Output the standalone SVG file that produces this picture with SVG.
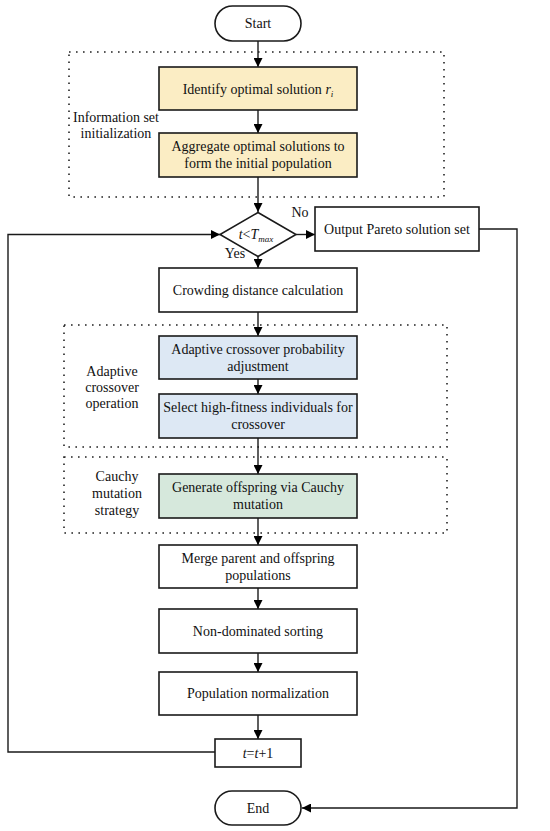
<svg xmlns="http://www.w3.org/2000/svg" width="550" height="831" viewBox="0 0 550 831" font-family="'Liberation Serif', 'Times New Roman', Times, serif">
<style>
text{font-family:'Liberation Serif','Times New Roman',Times,serif;font-size:14px;fill:#111;text-anchor:middle}
.box{stroke:#1a1a1a;stroke-width:1.6;fill:#fff}
.y{fill:#FBEDC4}.b{fill:#DDE8F4}.g{fill:#D6E8DC}
.dot{fill:none;stroke:#222;stroke-width:1.6;stroke-dasharray:1.6 5.4}
.ln{fill:none;stroke:#1a1a1a;stroke-width:1.4}
</style>
<defs>
<marker id="ah" markerWidth="9" markerHeight="9" refX="9" refY="4.5" orient="auto" markerUnits="userSpaceOnUse">
<path d="M0,0 L9,4.5 L0,9 z" fill="#000"/>
</marker>
</defs>
<rect width="550" height="831" fill="#fff"/>
<g id="groups">
<rect class="dot" x="69" y="52" width="375" height="145"/>
<text x="116" y="122">Information set</text>
<text x="116" y="138">initialization</text>
<rect class="dot" x="64" y="325" width="383" height="122"/>
<text x="112" y="376">Adaptive</text>
<text x="112" y="392">crossover</text>
<text x="112" y="408">operation</text>
<rect class="dot" x="64" y="457" width="383" height="76"/>
<text x="117" y="481">Cauchy</text>
<text x="117" y="498">mutation</text>
<text x="117" y="515">strategy</text>
</g>
<g id="connectors">
<line class="ln" x1="258" y1="41" x2="258" y2="67" marker-end="url(#ah)"/>
<line class="ln" x1="258" y1="110" x2="258" y2="133" marker-end="url(#ah)"/>
<line class="ln" x1="258" y1="177" x2="258" y2="212" marker-end="url(#ah)"/>
<line class="ln" x1="296" y1="234.5" x2="315" y2="234.5" marker-end="url(#ah)"/>
<line class="ln" x1="258" y1="257" x2="258" y2="268" marker-end="url(#ah)"/>
<line class="ln" x1="258" y1="312" x2="258" y2="336" marker-end="url(#ah)"/>
<line class="ln" x1="258" y1="379" x2="258" y2="394" marker-end="url(#ah)"/>
<line class="ln" x1="258" y1="438" x2="258" y2="474" marker-end="url(#ah)"/>
<line class="ln" x1="258" y1="518" x2="258" y2="545" marker-end="url(#ah)"/>
<line class="ln" x1="258" y1="588" x2="258" y2="609" marker-end="url(#ah)"/>
<line class="ln" x1="258" y1="653" x2="258" y2="672" marker-end="url(#ah)"/>
<line class="ln" x1="258" y1="715" x2="258" y2="739" marker-end="url(#ah)"/>
<polyline class="ln" points="215,752 8,752 8,234.5 220,234.5" marker-end="url(#ah)"/>
<polyline class="ln" points="479,229 517,229 517,808 302,808" marker-end="url(#ah)"/>
<text x="300" y="217">No</text>
<text x="235" y="258">Yes</text>
</g>
<g id="start">
<rect class="box" x="215" y="6" width="86" height="35" rx="17.5"/>
<text x="258" y="28">Start</text>
</g>
<g id="identify">
<rect class="box y" x="159" y="67" width="198" height="43"/>
<text x="258" y="94">Identify optimal solution <tspan font-style="italic">r</tspan><tspan font-style="italic" font-size="9" dy="3">i</tspan></text>
</g>
<g id="aggregate">
<rect class="box y" x="159" y="133" width="198" height="44"/>
<text x="258" y="151">Aggregate optimal solutions to</text>
<text x="258" y="168">form the initial population</text>
</g>
<g id="decision">
<polygon class="box" points="258,212.5 296,234.5 258,256.5 220,234.5"/>
<text x="256" y="239"><tspan font-style="italic">t</tspan>&lt;<tspan font-style="italic">T</tspan><tspan font-style="italic" font-size="9" dy="3">max</tspan></text>
</g>
<g id="pareto">
<rect class="box" x="315" y="207" width="164" height="44"/>
<text x="397" y="234">Output Pareto solution set</text>
</g>
<g id="crowding">
<rect class="box" x="159" y="268" width="198" height="44"/>
<text x="258" y="295">Crowding distance calculation</text>
</g>
<g id="adaptive">
<rect class="box b" x="159" y="336" width="198" height="43"/>
<text x="258" y="354">Adaptive crossover probability</text>
<text x="258" y="371">adjustment</text>
</g>
<g id="select">
<rect class="box b" x="159" y="394" width="198" height="44"/>
<text x="258" y="412">Select high-fitness individuals for</text>
<text x="258" y="429">crossover</text>
</g>
<g id="generate">
<rect class="box g" x="159" y="474" width="198" height="44"/>
<text x="258" y="492">Generate offspring via Cauchy</text>
<text x="258" y="509">mutation</text>
</g>
<g id="merge">
<rect class="box" x="159" y="545" width="198" height="43"/>
<text x="258" y="563">Merge parent and offspring</text>
<text x="258" y="580">populations</text>
</g>
<g id="nondominated">
<rect class="box" x="159" y="609" width="198" height="44"/>
<text x="258" y="636">Non-dominated sorting</text>
</g>
<g id="normalization">
<rect class="box" x="159" y="672" width="198" height="43"/>
<text x="258" y="698">Population normalization</text>
</g>
<g id="increment">
<rect class="box" x="215" y="739" width="86" height="28"/>
<text x="258" y="758"><tspan font-style="italic">t</tspan>=<tspan font-style="italic">t</tspan>+1</text>
</g>
<g id="end">
<rect class="box" x="215" y="791" width="86" height="34" rx="17"/>
<text x="258" y="813">End</text>
</g>
</svg>
